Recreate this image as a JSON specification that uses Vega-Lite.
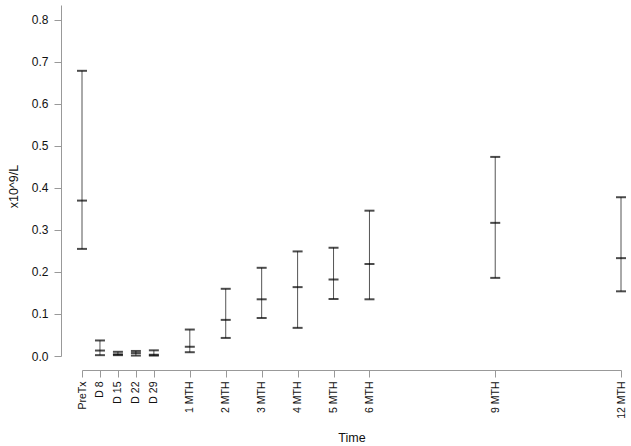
{
  "$schema": "https://vega.github.io/schema/vega-lite/v6.json",
  "width": 539,
  "height": 351,
  "autosize": {"type": "none"},
  "padding": {"left": 82, "top": 5, "right": 10, "bottom": 90},
  "background": "white",
  "config": {
    "view": {"stroke": null},
    "font": "Liberation Sans",
    "axis": {
      "labelFont": "Liberation Sans",
      "titleFont": "Liberation Sans",
      "titleFontWeight": "normal",
      "labelColor": "#111",
      "titleColor": "#111",
      "domainColor": "#999",
      "tickColor": "#999",
      "grid": false
    }
  },
  "data": {
    "values": [
      {"time": "PreTx", "t": 0, "low": 0.255, "mid": 0.370, "high": 0.679},
      {"time": "D 8", "t": 1, "low": 0.002, "mid": 0.013, "high": 0.037},
      {"time": "D 15", "t": 2, "low": 0.002, "mid": 0.004, "high": 0.010},
      {"time": "D 22", "t": 3, "low": 0.001, "mid": 0.007, "high": 0.012},
      {"time": "D 29", "t": 4, "low": 0.001, "mid": 0.003, "high": 0.0135},
      {"time": "1 MTH", "t": 6, "low": 0.009, "mid": 0.022, "high": 0.063},
      {"time": "2 MTH", "t": 8, "low": 0.043, "mid": 0.086, "high": 0.160},
      {"time": "3 MTH", "t": 10, "low": 0.0905, "mid": 0.135, "high": 0.210},
      {"time": "4 MTH", "t": 12, "low": 0.067, "mid": 0.164, "high": 0.249},
      {"time": "5 MTH", "t": 14, "low": 0.136, "mid": 0.182, "high": 0.258},
      {"time": "6 MTH", "t": 16, "low": 0.135, "mid": 0.219, "high": 0.346},
      {"time": "9 MTH", "t": 23, "low": 0.186, "mid": 0.317, "high": 0.474},
      {"time": "12 MTH", "t": 30, "low": 0.154, "mid": 0.233, "high": 0.378}
    ]
  },
  "encoding": {
    "x": {
      "field": "t",
      "type": "quantitative",
      "scale": {"domain": [0, 30], "nice": false, "zero": false},
      "axis": {
        "title": "Time",
        "values": [0, 1, 2, 3, 4, 6, 8, 10, 12, 14, 16, 23, 30],
        "labelExpr": "{'0':'PreTx','1':'D 8','2':'D 15','3':'D 22','4':'D 29','6':'1 MTH','8':'2 MTH','10':'3 MTH','12':'4 MTH','14':'5 MTH','16':'6 MTH','23':'9 MTH','30':'12 MTH'}[datum.value + '']",
        "labelAngle": 270,
        "labelAlign": "right",
        "labelBaseline": "middle",
        "labelFontSize": 10.5,
        "labelPadding": 4,
        "labelOverlap": false,
        "labelFlush": false,
        "tickSize": 7,
        "offset": 14,
        "titleFontSize": 12.5,
        "titlePadding": 13
      }
    }
  },
  "layer": [
    {
      "mark": {"type": "rule", "color": "#555", "strokeWidth": 1},
      "encoding": {
        "y": {
          "field": "low",
          "type": "quantitative",
          "scale": {"domain": [0, 0.8357], "nice": false, "zero": false},
          "axis": {
            "title": "x10^9/L",
            "values": [0, 0.1, 0.2, 0.3, 0.4, 0.5, 0.6, 0.7, 0.8],
            "format": ".1f",
            "labelFontSize": 12,
            "labelPadding": 6,
            "labelFlush": false,
            "tickSize": 7,
            "offset": 21,
            "titleFontSize": 12.5,
            "titlePadding": 11,
            "titleY": 181
          }
        },
        "y2": {"field": "high"}
      }
    },
    {
      "transform": [{"fold": ["low", "mid", "high"], "as": ["stat", "value"]}],
      "mark": {"type": "tick", "orient": "horizontal", "color": "#000", "size": 10, "thickness": 2},
      "encoding": {
        "y": {
          "field": "value",
          "type": "quantitative",
          "scale": {"domain": [0, 0.8357], "nice": false, "zero": false},
          "axis": {
            "title": "x10^9/L",
            "values": [0, 0.1, 0.2, 0.3, 0.4, 0.5, 0.6, 0.7, 0.8],
            "format": ".1f",
            "labelFontSize": 12,
            "labelPadding": 6,
            "labelFlush": false,
            "tickSize": 7,
            "offset": 21,
            "titleFontSize": 12.5,
            "titlePadding": 11,
            "titleY": 181
          }
        }
      }
    }
  ]
}
